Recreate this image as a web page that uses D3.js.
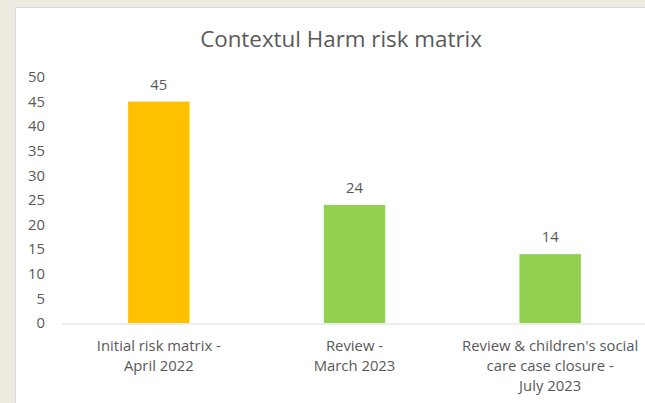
<!DOCTYPE html>
<html>
<head>
<meta charset="utf-8">
<script src="https://cdn.jsdelivr.net/npm/d3@7"></script>
<style>
  html, body { margin: 0; padding: 0; background: #EEECE1; }
  svg { display: block; }
  text { font-family: "Open Sans", sans-serif; fill: #595959; }
</style>
</head>
<body>
<div id="chart"></div>
<script>
const title = "Contextul Harm risk matrix";
const categories = ["Initial risk matrix - April 2022", "Review - March 2023", "Review & children's social care case closure - July 2023"];
const categoryLines = [["Initial risk matrix -", "April 2022"], ["Review -", "March 2023"], ["Review & children's social", "care case closure -", "July 2023"]];
const values = [45, 24, 14];
const barColors = ["#FFC000", "#92D050", "#92D050"];
const yTicks = [0, 5, 10, 15, 20, 25, 30, 35, 40, 45, 50];

const W = 645, H = 403;
const svg = d3.select("#chart").append("svg").attr("width", W).attr("height", H);

svg.append("rect").attr("x", 15.5).attr("y", 7.5).attr("width", 700).attr("height", 500)
  .attr("fill", "#ffffff").attr("stroke", "#D9D9D9").attr("stroke-width", 1);

const plot = { left: 61, right: 648, top: 77, bottom: 323 };

const x = d3.scaleBand().domain(categories).range([plot.left, plot.right])
  .paddingInner(0.686).paddingOuter(0.343);
const y = d3.scaleLinear().domain([0, 50]).range([plot.bottom, plot.top]);

// fit a font size so a sample string reaches a measured width
function fitSize(str, target, base) {
  const t = svg.append("text").style("font-size", base + "px").text(str);
  const w = t.node().getComputedTextLength();
  t.remove();
  return base * target / w;
}
const titleSize = fitSize(title, 282, 20);
const labelSize = fitSize("Initial risk matrix -", 124, 14);

svg.append("text").attr("x", 341).attr("y", 47).attr("text-anchor", "middle")
  .style("font-size", titleSize + "px").text(title);

const yAxis = d3.axisLeft(y).tickValues(yTicks).tickSize(0).tickPadding(0);
const yg = svg.append("g").attr("transform", `translate(45,0)`).call(yAxis);
yg.select(".domain").remove();
yg.selectAll("text").style("font-size", labelSize + "px").attr("fill", "#595959")
  .style("font-family", "'Open Sans', sans-serif");

svg.selectAll("rect.bar").data(values).enter().append("rect").attr("class", "bar")
  .attr("x", (d, i) => x(categories[i]))
  .attr("width", x.bandwidth())
  .attr("y", d => y(d))
  .attr("height", d => y(0) - y(d))
  .attr("fill", (d, i) => barColors[i]);

const xAxis = d3.axisBottom(x).tickSize(0).tickFormat("");
const xg = svg.append("g").attr("transform", `translate(0,${plot.bottom + 0.5})`).call(xAxis);
xg.select(".domain").attr("stroke", "#D9D9D9").attr("stroke-width", 1);
xg.selectAll("text").remove();

categories.forEach((c, i) => {
  const cx = x(c) + x.bandwidth() / 2;
  const t = svg.append("text").attr("text-anchor", "middle").style("font-size", labelSize + "px");
  categoryLines[i].forEach((line, j) => {
    t.append("tspan").attr("x", cx).attr("y", 351 + j * 20).text(line);
  });
});

svg.selectAll("text.dl").data(values).enter().append("text").attr("class", "dl")
  .attr("x", (d, i) => x(categories[i]) + x.bandwidth() / 2)
  .attr("y", d => y(d) - 12)
  .attr("text-anchor", "middle").style("font-size", labelSize + "px")
  .text(d => d);
</script>
</body>
</html>
